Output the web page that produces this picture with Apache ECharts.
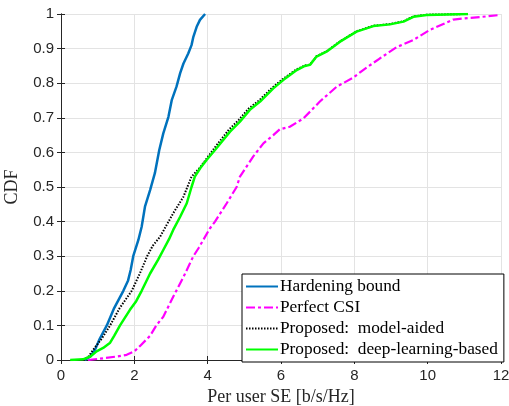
<!DOCTYPE html>
<html>
<head>
<meta charset="utf-8">
<script src="https://cdn.jsdelivr.net/npm/echarts@6/dist/echarts.min.js"></script>
<style>
  html, body { margin: 0; padding: 0; background: #fff; }
  #chart { width: 509px; height: 406px; }
</style>
</head>
<body>
<div id="chart"></div>
<script>
// CDF curves, points as [SE, CDF]
const hardeningBound = [
  [0.65, 0], [0.8, 0.01], [0.93, 0.03], [1.05, 0.06], [1.25, 0.1], [1.45, 0.15],
  [1.7, 0.2], [1.83, 0.23], [1.9, 0.26], [1.97, 0.3], [2.11, 0.347], [2.2, 0.385],
  [2.29, 0.443], [2.43, 0.491], [2.56, 0.54], [2.68, 0.607], [2.79, 0.655],
  [2.93, 0.703], [3.02, 0.751], [3.15, 0.79], [3.25, 0.829], [3.34, 0.857],
  [3.47, 0.886], [3.56, 0.91], [3.61, 0.934], [3.7, 0.963], [3.79, 0.983], [3.93, 1.0]
];
const perfectCSI = [
  [0.74, 0], [1.15, 0.005], [1.52, 0.01], [1.79, 0.015], [2.0, 0.025], [2.15, 0.04],
  [2.43, 0.07], [2.6, 0.1], [2.79, 0.125], [3.06, 0.183], [3.34, 0.24], [3.61, 0.3],
  [3.75, 0.323], [4.06, 0.38], [4.2, 0.4], [4.52, 0.453], [4.79, 0.5], [4.88, 0.53],
  [5.24, 0.588], [5.52, 0.626], [5.79, 0.65], [5.97, 0.667], [6.24, 0.674],
  [6.61, 0.698], [7.06, 0.747], [7.52, 0.79], [7.97, 0.816], [8.24, 0.838],
  [8.7, 0.872], [9.15, 0.904], [9.61, 0.925], [10.06, 0.954], [10.47, 0.973],
  [10.7, 0.984], [10.97, 0.987], [11.5, 0.992], [11.97, 0.997]
];
const modelAided = [
  [0.6, 0], [0.75, 0.01], [0.88, 0.03], [1.1, 0.06], [1.34, 0.1], [1.6, 0.15],
  [1.93, 0.2], [2.15, 0.25], [2.35, 0.3], [2.5, 0.33], [2.7, 0.356], [2.88, 0.39],
  [3.06, 0.424], [3.34, 0.472], [3.56, 0.53], [3.79, 0.556], [4.18, 0.612],
  [4.58, 0.666], [4.85, 0.694], [5.12, 0.727], [5.4, 0.75], [5.77, 0.788],
  [6.04, 0.811], [6.42, 0.84], [6.65, 0.851], [6.79, 0.854], [6.97, 0.878],
  [7.24, 0.892], [7.61, 0.921], [8.06, 0.95], [8.52, 0.966], [8.97, 0.971],
  [9.34, 0.979], [9.61, 0.993], [9.97, 0.998], [11.1, 1.0]
];
const deepLearning = [
  [0.25, 0], [0.6, 0.002], [0.8, 0.01], [0.97, 0.025], [1.15, 0.035], [1.34, 0.05],
  [1.45, 0.07], [1.61, 0.1], [1.88, 0.145], [2.05, 0.17], [2.2, 0.2], [2.43, 0.25],
  [2.65, 0.29], [2.8, 0.32], [2.95, 0.35], [3.06, 0.376], [3.25, 0.414], [3.43, 0.453],
  [3.56, 0.5], [3.65, 0.53], [3.8, 0.555], [3.97, 0.578], [4.2, 0.607],
  [4.61, 0.66], [4.88, 0.689], [5.15, 0.723], [5.43, 0.747], [5.79, 0.785],
  [6.06, 0.809], [6.43, 0.838], [6.65, 0.85], [6.79, 0.853], [6.97, 0.877],
  [7.24, 0.891], [7.61, 0.92], [8.06, 0.949], [8.52, 0.965], [8.97, 0.97],
  [9.34, 0.978], [9.61, 0.992], [9.97, 0.997], [11.1, 1.0]
];
const seriesNames = [
  'Hardening bound',
  'Perfect CSI',
  'Proposed:  model-aided',
  'Proposed:  deep-learning-based'
];

const axisColor = '#262626';
const gridColor = '#e3e3e3';
const sansFont = 'Liberation Sans';
const serifFont = 'Liberation Serif';

// box lines on top/right, ticks only
function frameAxis(position) {
  const isX = position === 'top';
  return {
    type: 'value',
    position: position,
    min: 0,
    max: isX ? 12 : 1,
    interval: isX ? 2 : 0.1,
    axisLine: { show: true, lineStyle: { color: axisColor, width: 1 } },
    axisTick: { show: true, inside: true, length: 4, lineStyle: { color: axisColor } },
    axisLabel: { show: false },
    splitLine: { show: false }
  };
}

const chart = echarts.init(document.getElementById('chart'), null, { renderer: 'canvas' });

chart.setOption({
  animation: false,
  backgroundColor: '#fff',
  grid: { left: 61, right: 8, top: 14, bottom: 46, outerBoundsMode: 'none', containLabel: false },
  xAxis: [
    {
      type: 'value',
      min: 0,
      max: 12,
      interval: 2,
      name: 'Per user SE [b/s/Hz]',
      nameLocation: 'middle',
      nameGap: 28,
      nameTextStyle: { fontFamily: serifFont, fontSize: 18, color: axisColor },
      axisLine: { show: true, lineStyle: { color: axisColor, width: 1 } },
      axisTick: { show: true, inside: true, length: 4, lineStyle: { color: axisColor } },
      axisLabel: { fontFamily: sansFont, fontSize: 15, color: axisColor, margin: 8 },
      splitLine: { show: true, lineStyle: { color: gridColor, width: 1 } }
    },
    frameAxis('top')
  ],
  yAxis: [
    {
      type: 'value',
      min: 0,
      max: 1,
      interval: 0.1,
      name: 'CDF',
      nameLocation: 'middle',
      nameGap: 40,
      nameTextStyle: { fontFamily: serifFont, fontSize: 18, color: axisColor },
      axisLine: { show: true, lineStyle: { color: axisColor, width: 1 } },
      axisTick: { show: true, inside: true, length: 4, lineStyle: { color: axisColor } },
      axisLabel: {
        fontFamily: sansFont, fontSize: 15, color: axisColor, margin: 7,
        formatter: (v) => String(Math.round(v * 10) / 10)
      },
      splitLine: { show: true, lineStyle: { color: gridColor, width: 1 } }
    },
    frameAxis('right')
  ],
  legend: {
    orient: 'vertical',
    left: 242,
    top: 274,
    width: 258,
    padding: [4, 6, 4, 3],
    itemGap: 4,
    itemWidth: 32,
    itemHeight: 16,
    borderColor: '#000',
    borderWidth: 1,
    borderRadius: 0,
    backgroundColor: '#fff',
    itemStyle: { opacity: 0, borderWidth: 0 },
    textStyle: { fontFamily: serifFont, fontSize: 17.3, color: '#000', padding: [0, 0, 0, -3] },
    data: seriesNames
  },
  series: [
    {
      name: seriesNames[0],
      type: 'line',
      data: hardeningBound,
      showSymbol: false,
      symbol: 'none',
      color: '#0072BD',
      lineStyle: { color: '#0072BD', width: 2.5 }
    },
    {
      name: seriesNames[1],
      type: 'line',
      data: perfectCSI,
      showSymbol: false,
      symbol: 'none',
      color: '#FF00FF',
      lineStyle: { color: '#FF00FF', width: 2.2, type: [9, 3, 3, 3] }
    },
    {
      name: seriesNames[2],
      type: 'line',
      data: modelAided,
      showSymbol: false,
      symbol: 'none',
      color: '#000000',
      lineStyle: { color: '#000000', width: 2, type: [1.5, 1.5] }
    },
    {
      name: seriesNames[3],
      type: 'line',
      data: deepLearning,
      showSymbol: false,
      symbol: 'none',
      color: '#00FF00',
      lineStyle: { color: '#00FF00', width: 2.5 }
    }
  ]
});
</script>
</body>
</html>
